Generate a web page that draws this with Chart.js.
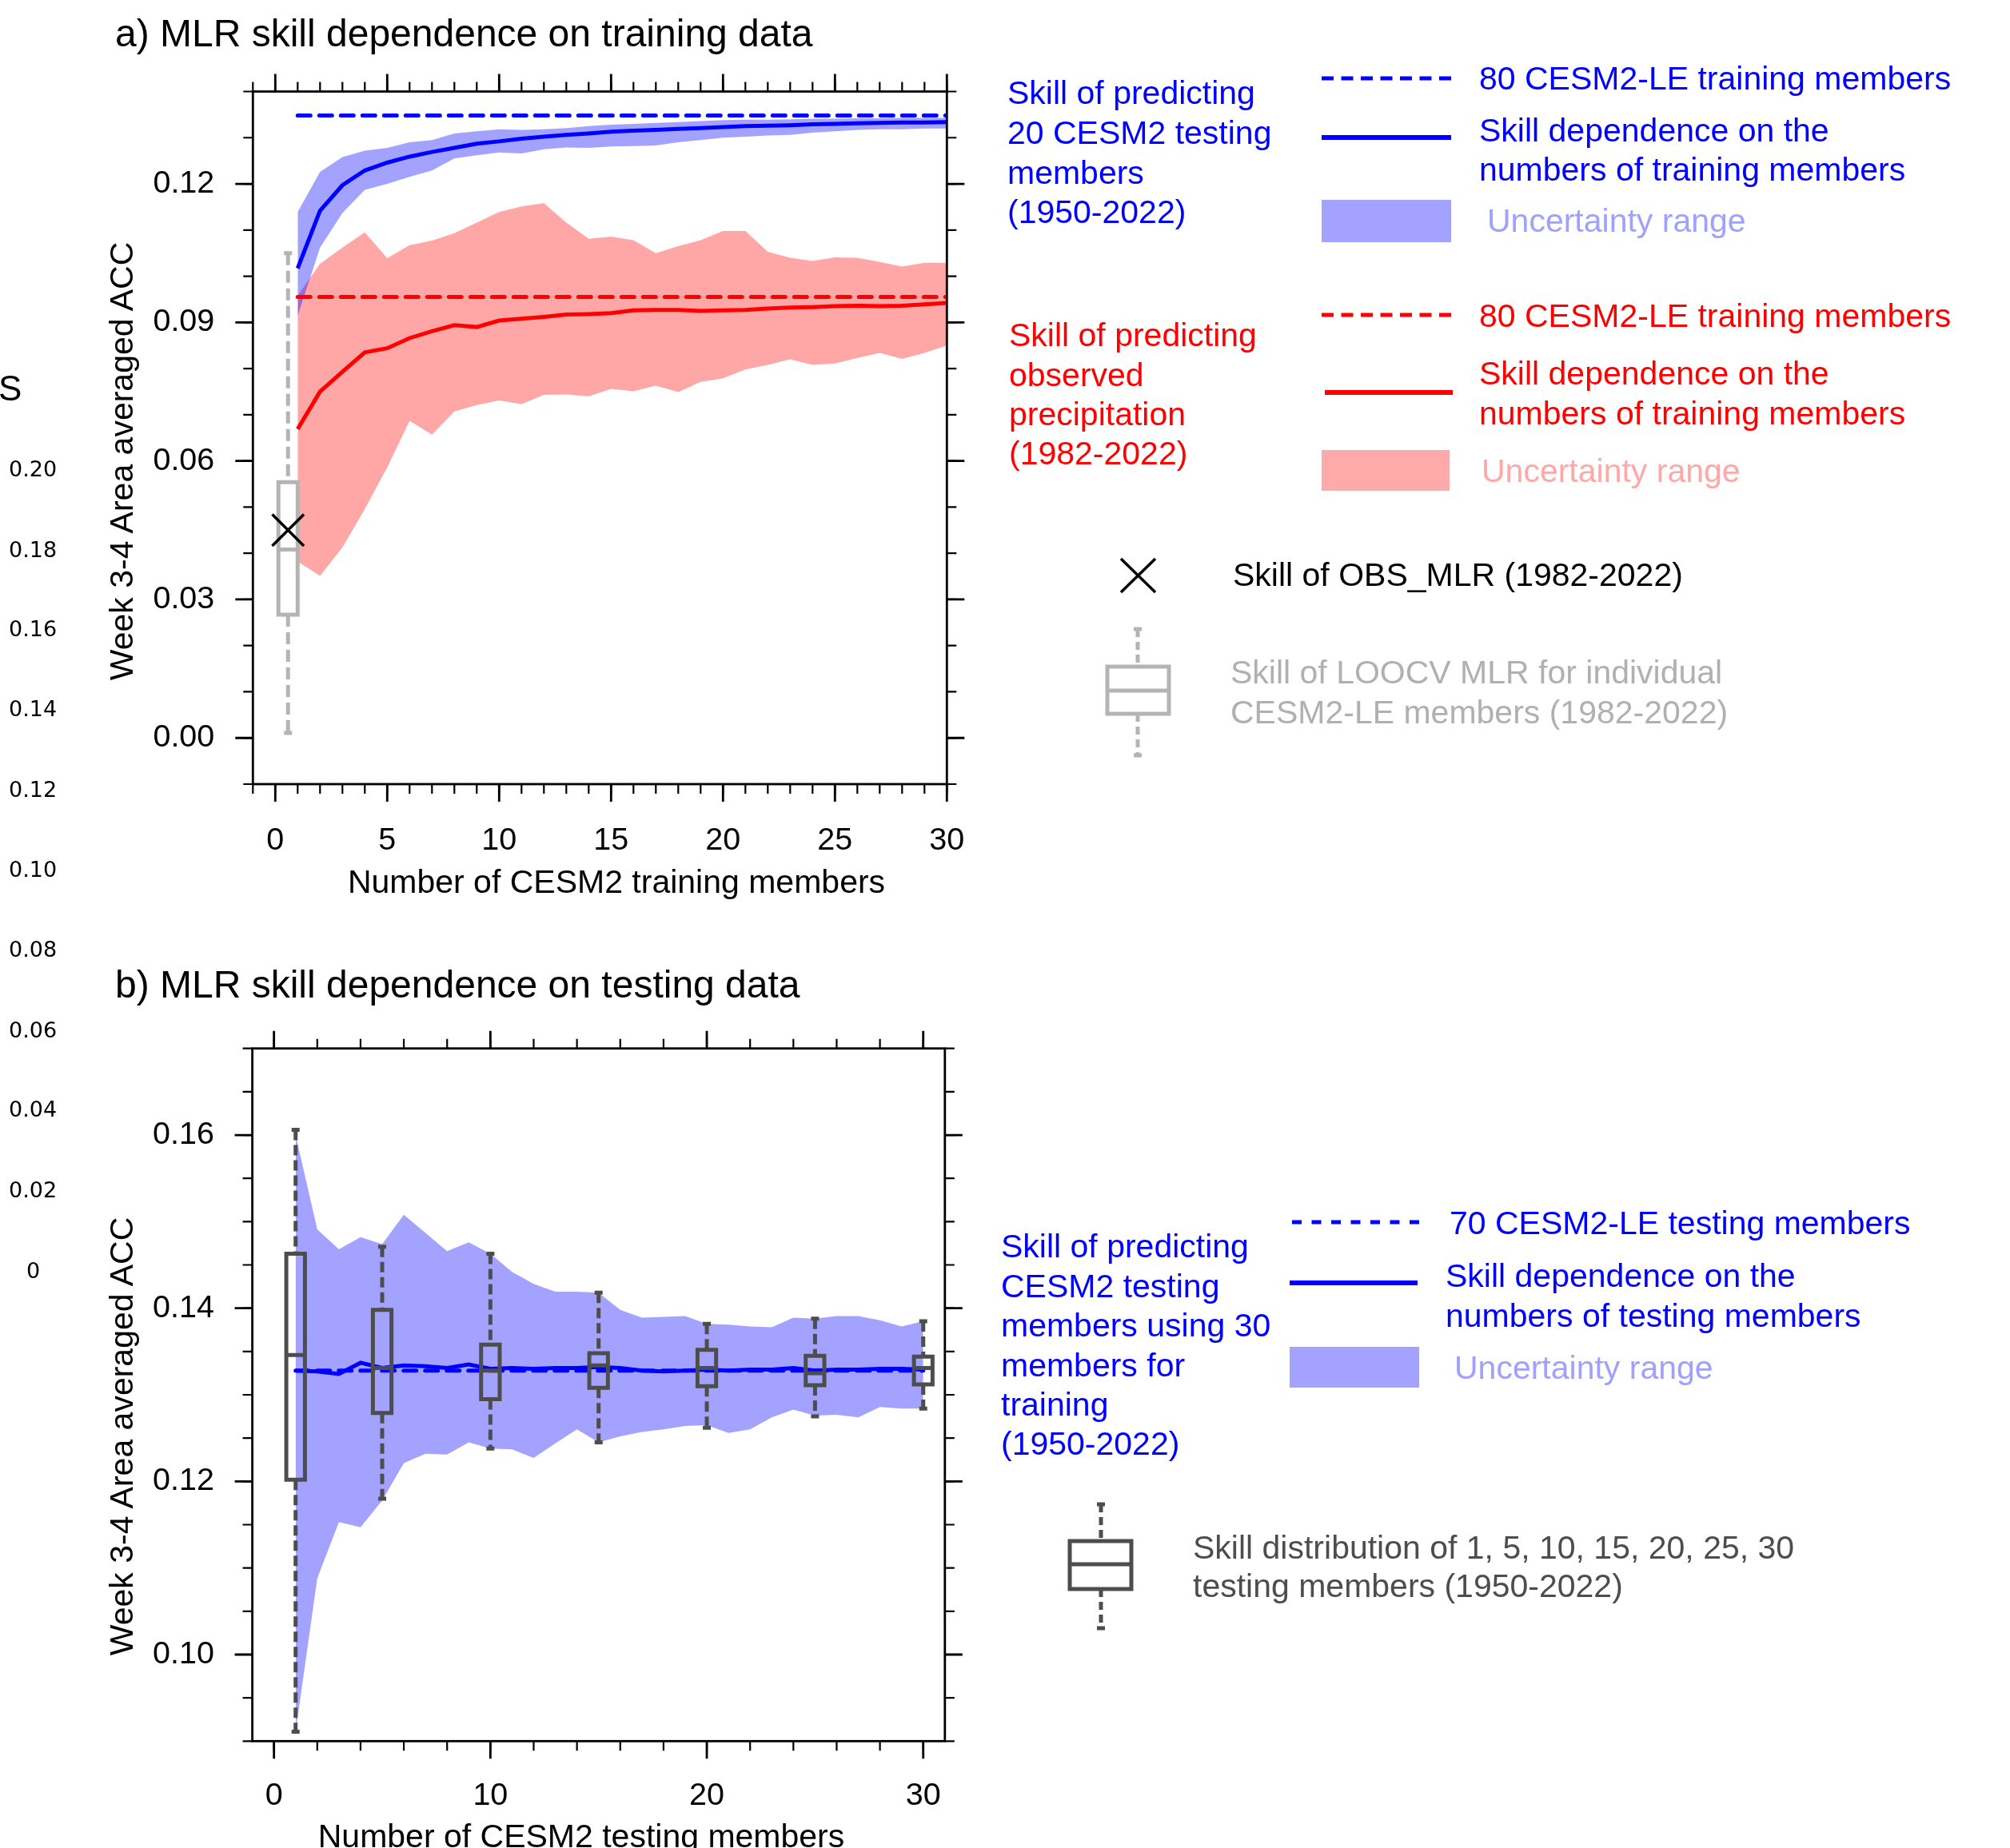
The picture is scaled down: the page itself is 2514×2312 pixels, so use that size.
<!DOCTYPE html>
<html>
<head>
<meta charset="utf-8">
<script src="https://cdn.jsdelivr.net/npm/chart.js@4.4.1/dist/chart.umd.min.js"></script>
<style>
  html, body { margin: 0; padding: 0; background: #fff; }
  body { width: 2514px; height: 2312px; position: relative; overflow: hidden;
         font-family: "Liberation Sans", Arial, Helvetica, sans-serif; }
  canvas { position: absolute; left: 0; }
  .t { position: absolute; white-space: pre; }
  #keys { position: absolute; left: 0; top: 0; }
</style>
</head>
<body>
<canvas id="chartA" width="2514" height="1150" style="top:0;width:2514px;height:1150px"></canvas>
<canvas id="chartB" width="2514" height="1162" style="top:1150px;width:2514px;height:1162px"></canvas>

<svg id="keys" width="2514" height="2312">
  <!-- a) legend keys -->
  <line x1="1653" y1="98" x2="1815" y2="98" stroke="#0000ff" stroke-width="5" stroke-dasharray="15 9.5"/>
  <line x1="1653" y1="172" x2="1815" y2="172" stroke="#0000ff" stroke-width="6"/>
  <rect x="1653" y="250" width="162" height="53" fill="rgb(163,163,255)"/>
  <line x1="1653" y1="394" x2="1815" y2="394" stroke="#ff0000" stroke-width="5" stroke-dasharray="15 9.5"/>
  <line x1="1657" y1="491" x2="1817" y2="491" stroke="#ff0000" stroke-width="6"/>
  <rect x="1653" y="563" width="160" height="51" fill="rgb(255,170,170)"/>
  <path d="M1402 699 L1445 741 M1445 699 L1402 741" stroke="#000" stroke-width="3.5"/>
  <g stroke="#b4b4b4" stroke-width="5" fill="none">
    <line x1="1423" y1="787" x2="1423" y2="834" stroke-dasharray="10 6"/>
    <line x1="1418" y1="787" x2="1428" y2="787"/>
    <rect x="1385" y="834" width="77" height="59"/>
    <line x1="1385" y1="864" x2="1462" y2="864"/>
    <line x1="1423" y1="893" x2="1423" y2="945" stroke-dasharray="10 6"/>
    <line x1="1418" y1="945" x2="1428" y2="945"/>
  </g>
  <!-- b) legend keys -->
  <line x1="1616" y1="1529" x2="1775" y2="1529" stroke="#0000ff" stroke-width="5" stroke-dasharray="12 12.5"/>
  <line x1="1613" y1="1605" x2="1773" y2="1605" stroke="#0000ff" stroke-width="6"/>
  <rect x="1613" y="1685" width="162" height="51" fill="rgb(163,163,255)"/>
  <g stroke="#4d4d4d" stroke-width="5" fill="none">
    <line x1="1377" y1="1882" x2="1377" y2="1928" stroke-dasharray="10 6"/>
    <line x1="1372" y1="1882" x2="1382" y2="1882"/>
    <rect x="1338" y="1928" width="77" height="60"/>
    <line x1="1338" y1="1957" x2="1415" y2="1957"/>
    <line x1="1377" y1="1988" x2="1377" y2="2037" stroke-dasharray="10 6"/>
    <line x1="1372" y1="2037" x2="1382" y2="2037"/>
  </g>
</svg>

<script>
// ---- a) MLR skill dependence on training data ----
const members = [1, 2, 3, 4, 5, 6, 7, 8, 9, 10, 11, 12, 13, 14, 15,
                 16, 17, 18, 19, 20, 21, 22, 23, 24, 25, 26, 27, 28, 29, 30];

const trainBlueMid = [0.1017, 0.1142, 0.1197, 0.1229, 0.1246, 0.1259, 0.1269, 0.1278, 0.1287, 0.1292,
                      0.1298, 0.1302, 0.1306, 0.1309, 0.1313, 0.1315, 0.1317, 0.1319, 0.1321, 0.1323,
                      0.1325, 0.1326, 0.1327, 0.1329, 0.1330, 0.1331, 0.1332, 0.1333, 0.1333, 0.1334];
const trainBlueHi = [0.1139, 0.1226, 0.1258, 0.1272, 0.1278, 0.1290, 0.1295, 0.1309, 0.1314, 0.1318,
                     0.1317, 0.1318, 0.1321, 0.1325, 0.1328, 0.1330, 0.1332, 0.1334, 0.1336, 0.1338,
                     0.1339, 0.1339, 0.1340, 0.1341, 0.1341, 0.1342, 0.1342, 0.1343, 0.1343, 0.1343];
const trainBlueLo = [0.0914, 0.1062, 0.1137, 0.1187, 0.1200, 0.1215, 0.1229, 0.1255, 0.1262, 0.1268,
                     0.1266, 0.1275, 0.1279, 0.1278, 0.1281, 0.1282, 0.1283, 0.1290, 0.1295, 0.1300,
                     0.1302, 0.1305, 0.1306, 0.1311, 0.1314, 0.1317, 0.1318, 0.1318, 0.1320, 0.1320];

const trainRedMid = [0.0669, 0.0750, 0.0793, 0.0835, 0.0844, 0.0866, 0.0881, 0.0894, 0.0890, 0.0904,
                     0.0908, 0.0912, 0.0917, 0.0918, 0.0920, 0.0926, 0.0927, 0.0927, 0.0925, 0.0926,
                     0.0927, 0.0930, 0.0932, 0.0933, 0.0935, 0.0936, 0.0935, 0.0936, 0.0939, 0.0942];
const trainRedHi = [0.0958, 0.1027, 0.1062, 0.1095, 0.1039, 0.1067, 0.1077, 0.1093, 0.1116, 0.1139,
                    0.1151, 0.1158, 0.1116, 0.1081, 0.1086, 0.1078, 0.1050, 0.1065, 0.1078, 0.1098,
                    0.1098, 0.1053, 0.1040, 0.1033, 0.1041, 0.1040, 0.1031, 0.1021, 0.1029, 0.1029];
const trainRedLo = [0.0382, 0.0351, 0.0413, 0.0496, 0.0586, 0.0687, 0.0657, 0.0707, 0.0721, 0.0731,
                    0.0723, 0.0743, 0.0744, 0.0740, 0.0756, 0.0751, 0.0763, 0.0749, 0.0771, 0.0779,
                    0.0798, 0.0808, 0.0820, 0.0808, 0.0811, 0.0823, 0.0834, 0.0821, 0.0834, 0.0850];

const fullRange = [1, 30];
const trainBlueFull = 0.1348;   // 80 training members
const trainRedFull = 0.0955;

// LOOCV box (lo, q1, median, q3, hi) and OBS_MLR skill
const loocvX = [0.57];
const loocvLo = [0.0011], loocvQ1 = [0.0267], loocvMed = [0.0408], loocvQ3 = [0.0554], loocvHi = [0.1050];
const obsSkill = 0.0450;

const xTicksA = [0, 5, 10, 15, 20, 25, 30];
const yTicksA = [0.00, 0.03, 0.06, 0.09, 0.12];

// ---- b) MLR skill dependence on testing data ----
const testMid = [0.1328, 0.1327, 0.1324, 0.1337, 0.1331, 0.1334, 0.1333, 0.1331, 0.1335, 0.1330,
                 0.1331, 0.1330, 0.1331, 0.1331, 0.1332, 0.1331, 0.1328, 0.1327, 0.1328, 0.1329,
                 0.1328, 0.1329, 0.1329, 0.1331, 0.1328, 0.1329, 0.1329, 0.1330, 0.1330, 0.1329];
const testHi = [0.1600, 0.1491, 0.1468, 0.1482, 0.1474, 0.1508, 0.1487, 0.1466, 0.1476, 0.1463,
                0.1442, 0.1428, 0.1419, 0.1419, 0.1418, 0.1398, 0.1389, 0.1390, 0.1391, 0.1382,
                0.1381, 0.1379, 0.1378, 0.1389, 0.1388, 0.1391, 0.1391, 0.1386, 0.1379, 0.1385];
const testLo = [0.0911, 0.1088, 0.1153, 0.1147, 0.1178, 0.1221, 0.1232, 0.1231, 0.1245, 0.1238,
                0.1237, 0.1227, 0.1244, 0.1260, 0.1245, 0.1252, 0.1257, 0.1260, 0.1264, 0.1265,
                0.1256, 0.1260, 0.1274, 0.1283, 0.1276, 0.1277, 0.1274, 0.1286, 0.1284, 0.1284];
const testFull = 0.1328;        // 70 testing members

const boxMembers = [1, 5, 10, 15, 20, 25, 30];
const boxLo  = [0.0911, 0.1180, 0.1238, 0.1245, 0.1262, 0.1275, 0.1284];
const boxQ1  = [0.1202, 0.1279, 0.1295, 0.1308, 0.1310, 0.1311, 0.1312];
const boxMed = [0.1346, 0.1331, 0.1328, 0.1334, 0.1331, 0.1325, 0.1331];
const boxQ3  = [0.1463, 0.1398, 0.1358, 0.1348, 0.1352, 0.1345, 0.1344];
const boxHi  = [0.1606, 0.1471, 0.1463, 0.1418, 0.1382, 0.1388, 0.1385];

const xTicksB = [0, 10, 20, 30];
const yTicksB = [0.10, 0.12, 0.14, 0.16];

// ---------------------------------------------------------------
const FONT = '"Liberation Sans", Arial, Helvetica, sans-serif';
const BLUE = '#0000ff', RED = '#ff0000';
const BAND_BLUE = 'rgba(0,0,255,0.36)', BAND_RED = 'rgba(255,0,0,0.35)';
Chart.defaults.font.family = FONT;

const pts = (xs, ys) => xs.map((x, i) => ({x: x, y: ys[i]}));
const flat = (xs, v) => xs.map(x => ({x: x, y: v}));
function range(a, b, step) {
  const out = [];
  for (let i = 0; a + i * step <= b + 1e-9; i++) out.push(a + i * step);
  return out;
}

function drawBoxes(chart, bx) {
  const {ctx, scales: {x, y}} = chart;
  ctx.save();
  ctx.strokeStyle = bx.color;
  ctx.lineWidth = 5;
  bx.xs.forEach((xv, i) => {
    const cx = x.getPixelForValue(xv);
    const l = x.getPixelForValue(xv - bx.half), r = x.getPixelForValue(xv + bx.half);
    const pHi = y.getPixelForValue(bx.hi[i]), pQ3 = y.getPixelForValue(bx.q3[i]);
    const pMed = y.getPixelForValue(bx.med[i]), pQ1 = y.getPixelForValue(bx.q1[i]);
    const pLo = y.getPixelForValue(bx.lo[i]);
    ctx.setLineDash(bx.dash);
    ctx.beginPath();
    ctx.moveTo(cx, pHi); ctx.lineTo(cx, pQ3);
    ctx.moveTo(cx, pQ1); ctx.lineTo(cx, pLo);
    ctx.stroke();
    ctx.setLineDash([]);
    ctx.beginPath();
    ctx.moveTo(cx - 5, pHi); ctx.lineTo(cx + 5, pHi);
    ctx.moveTo(cx - 5, pLo); ctx.lineTo(cx + 5, pLo);
    ctx.rect(l, pQ3, r - l, pQ1 - pQ3);
    ctx.moveTo(l, pMed); ctx.lineTo(r, pMed);
    ctx.stroke();
  });
  ctx.restore();
}

// NCL style frame with outward major/minor ticks on all four sides
const framePlugin = {
  id: 'frame',
  beforeDatasetDraw(chart, args, opts) {
    if (opts.boxes && args.index === opts.boxesBefore) drawBoxes(chart, opts.boxes);
  },
  afterDatasetsDraw(chart, args, opts) {
    if (opts.boxes && opts.boxesBefore < 0) drawBoxes(chart, opts.boxes);
  },
  afterDraw(chart, args, opts) {
    const {ctx, chartArea: a, scales: {x, y}} = chart;
    ctx.save();
    ctx.strokeStyle = '#000';
    const seg = (x1, y1, x2, y2) => { ctx.moveTo(x1, y1); ctx.lineTo(x2, y2); };
    const marks = (vals, len, w) => {
      ctx.lineWidth = w;
      ctx.beginPath();
      vals.x.forEach(v => {
        const p = x.getPixelForValue(v);
        seg(p, a.bottom, p, a.bottom + len);
        seg(p, a.top, p, a.top - len);
      });
      vals.y.forEach(v => {
        const p = y.getPixelForValue(v);
        seg(a.left, p, a.left - len, p);
        seg(a.right, p, a.right + len, p);
      });
      ctx.stroke();
    };
    marks({x: opts.xMinor, y: opts.yMinor}, 12, 2.2);
    marks({x: opts.xMajor, y: opts.yMajor}, 22, 2.8);
    ctx.lineWidth = 2.8;
    ctx.strokeRect(a.left, a.top, a.right - a.left, a.bottom - a.top);
    ctx.restore();
  }
};

function scalesFor(xmin, xmax, xt, ymin, ymax, yt, xPad, yPad, yW, xH) {
  return {
    x: {
      type: 'linear', min: xmin, max: xmax, bounds: 'data',
      afterBuildTicks: s => { s.ticks = xt.map(v => ({value: v})); },
      afterFit: s => { s.height = xH; },
      grid: {display: false, drawTicks: true, tickLength: 22},
      border: {display: false},
      ticks: {font: {size: 39.5}, color: '#000', padding: xPad, maxRotation: 0, autoSkip: false,
              callback: v => String(v)}
    },
    y: {
      type: 'linear', min: ymin, max: ymax, bounds: 'data',
      afterBuildTicks: s => { s.ticks = yt.map(v => ({value: v})); },
      afterFit: s => { s.width = yW; },
      grid: {display: false, drawTicks: true, tickLength: 22},
      border: {display: false},
      ticks: {font: {size: 39.5}, color: '#000', padding: yPad, autoSkip: false,
              callback: v => Number(v).toFixed(2)}
    }
  };
}

const lineDs = (label, data, color, extra) => Object.assign({
  label: label, data: data, borderColor: color, borderWidth: 5, pointRadius: 0,
  fill: false, tension: 0
}, extra || {});

// chart a
new Chart(document.getElementById('chartA'), {
  type: 'line',
  data: {
    datasets: [
      {label: 'Skill of OBS_MLR', data: pts(loocvX, [obsSkill]), showLine: false,
       pointStyle: 'crossRot', pointRadius: 28, pointBorderWidth: 3.5, pointBorderColor: '#000',
       pointBackgroundColor: 'rgba(0,0,0,0)', borderColor: '#000', order: 0},
      lineDs('blue dependence', pts(members, trainBlueMid), BLUE, {order: 1}),
      lineDs('blue 80 members', flat(fullRange, trainBlueFull), BLUE, {order: 2, borderDash: [16, 11], borderCapStyle: 'round'}),
      lineDs('red dependence', pts(members, trainRedMid), RED, {order: 3}),
      lineDs('red 80 members', flat(fullRange, trainRedFull), RED, {order: 4, borderDash: [16, 11], borderCapStyle: 'round'}),
      lineDs('blue lo', pts(members, trainBlueLo), 'rgba(0,0,0,0)', {borderWidth: 0, order: 6}),
      lineDs('blue hi', pts(members, trainBlueHi), 'rgba(0,0,0,0)', {borderWidth: 0, fill: '-1', backgroundColor: BAND_BLUE, order: 5}),
      lineDs('red lo', pts(members, trainRedLo), 'rgba(0,0,0,0)', {borderWidth: 0, order: 8}),
      lineDs('red hi', pts(members, trainRedHi), 'rgba(0,0,0,0)', {borderWidth: 0, fill: '-1', backgroundColor: BAND_RED, order: 7})
    ]
  },
  options: {
    responsive: false, animation: false, devicePixelRatio: 1,
    layout: {padding: {left: 0, top: 114.5, right: 1329.7, bottom: 0}},
    plugins: {
      legend: {display: false}, tooltip: {enabled: false},
      frame: {
        xMinor: range(-1, 30, 1), xMajor: xTicksA,
        yMinor: range(-0.01, 0.14, 0.01), yMajor: yTicksA,
        boxesBefore: 0,
        boxes: {xs: loocvX, lo: loocvLo, q1: loocvQ1, med: loocvMed, q3: loocvQ3, hi: loocvHi,
                half: 0.43, color: '#b4b4b4', dash: [15, 7]}
      }
    },
    scales: scalesFor(-1, 30, xTicksA, -0.01, 0.14, yTicksA, 25, 26, 316.3, 169)
  },
  plugins: [framePlugin]
});

// chart b
new Chart(document.getElementById('chartB'), {
  type: 'line',
  data: {
    datasets: [
      lineDs('dependence', pts(members, testMid), BLUE, {order: 1}),
      lineDs('70 members', flat(fullRange, testFull), BLUE, {order: 2, borderDash: [16, 11], borderCapStyle: 'round'}),
      lineDs('lo', pts(members, testLo), 'rgba(0,0,0,0)', {borderWidth: 0, order: 4}),
      lineDs('hi', pts(members, testHi), 'rgba(0,0,0,0)', {borderWidth: 0, fill: '-1', backgroundColor: BAND_BLUE, order: 3})
    ]
  },
  options: {
    responsive: false, animation: false, devicePixelRatio: 1,
    layout: {padding: {left: 0, top: 161.7, right: 1332.2, bottom: 0}},
    plugins: {
      legend: {display: false}, tooltip: {enabled: false},
      frame: {
        xMinor: range(0, 30, 2), xMajor: xTicksB,
        yMinor: range(0.09, 0.17, 0.005), yMajor: yTicksB,
        boxesBefore: -1,
        boxes: {xs: boxMembers, lo: boxLo, q1: boxQ1, med: boxMed, q3: boxQ3, hi: boxHi,
                half: 0.43, color: '#4d4d4d', dash: [13, 6]}
      }
    },
    scales: scalesFor(-1, 31, xTicksB, 0.09, 0.17, yTicksB, 23, 25.6, 315.6, 133.7)
  },
  plugins: [framePlugin]
});

// ---- texts ----
function addText(str, x, cy, size, color, lh, extra) {
  const d = document.createElement('div');
  d.className = 't';
  const L = lh || size * 1.2;
  d.style.cssText = 'left:' + x + 'px;top:' + (cy - L / 2) + 'px;font-size:' + size +
                    'px;line-height:' + L + 'px;color:' + color + ';' + (extra || '');
  d.textContent = str;
  document.body.appendChild(d);
  return d;
}
function addCentered(str, cx, cy, size, rotate) {
  const d = addText(str, cx, cy, size, '#000');
  d.style.top = cy + 'px';
  d.style.transform = 'translate(-50%,-50%)' + (rotate ? ' rotate(-90deg)' : '');
}

addText('a) MLR skill dependence on training data', 144, 42, 48, '#000');
addText('b) MLR skill dependence on testing data', 144, 1232, 48, '#000');
addCentered('Week 3-4 Area averaged ACC', 153, 577, 41, true);
addCentered('Number of CESM2 training members', 771, 1104, 41, false);
addCentered('Week 3-4 Area averaged ACC', 153, 1797, 41, true);
addCentered('Number of CESM2 testing members', 727, 2298, 41, false);

const LBLUE = 'rgb(160,160,255)', LRED = 'rgb(255,168,168)';
addText('Skill of predicting\n20 CESM2 testing\nmembers\n(1950-2022)', 1260, 117, 41, BLUE, 49.7);
addText('80 CESM2-LE training members', 1850, 99, 41, BLUE);
addText('Skill dependence on the\nnumbers of training members', 1850, 163.5, 41, BLUE, 49.7);
addText('Uncertainty range', 1860, 277, 41, LBLUE);
addText('Skill of predicting\nobserved\nprecipitation\n(1982-2022)', 1262, 420, 41, RED, 49.2);
addText('80 CESM2-LE training members', 1850, 396, 41, RED);
addText('Skill dependence on the\nnumbers of training members', 1850, 468, 41, RED, 49.7);
addText('Uncertainty range', 1853, 590, 41, LRED);
addText('Skill of OBS_MLR (1982-2022)', 1542, 720, 41, '#000');
addText('Skill of LOOCV MLR for individual\nCESM2-LE members (1982-2022)', 1539, 842, 41, '#b0b0b0', 49.7);

addText('Skill of predicting\nCESM2 testing\nmembers using 30\nmembers for\ntraining\n(1950-2022)', 1252, 1560, 41, BLUE, 49.4);
addText('70 CESM2-LE testing members', 1813, 1531, 41, BLUE);
addText('Skill dependence on the\nnumbers of testing members', 1808, 1597, 41, BLUE, 49.7);
addText('Uncertainty range', 1819, 1712, 41, LBLUE);
addText('Skill distribution of 1, 5, 10, 15, 20, 25, 30\ntesting members (1950-2022)', 1492, 1936, 41, '#4d4d4d', 48.5);

// remnants of a neighbouring panel on the left edge
const edgeLabels = ['0.20', '0.18', '0.16', '0.14', '0.12', '0.10', '0.08', '0.06', '0.04', '0.02'];
const edgeY = [587, 688, 787, 887, 988, 1088, 1188, 1289, 1388, 1489];
edgeLabels.forEach((s, i) => addText(s, 11, edgeY[i], 27, '#000', null, 'font-family:"DejaVu Sans",sans-serif'));
addText('0', 33, 1590, 27, '#000', null, 'font-family:"DejaVu Sans",sans-serif');
addText('S', -2, 486, 44, '#000');
</script>
</body>
</html>
